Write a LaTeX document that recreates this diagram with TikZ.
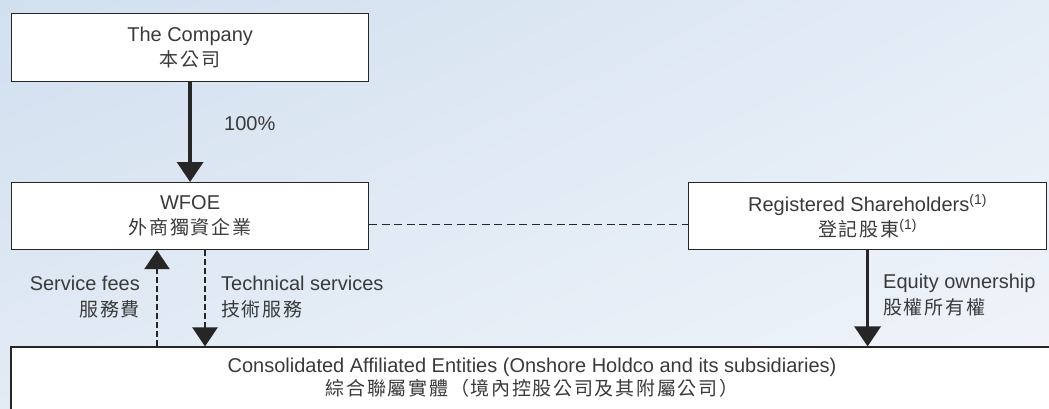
\documentclass[tikz,border=0pt]{standalone}
\usepackage{fontspec}
\setmainfont{Liberation Sans}
\newfontfamily\cjk[LetterSpace=9]{Noto Sans CJK TC}
\usetikzlibrary{arrows.meta,calc,fit,shadings}
\definecolor{txtc}{HTML}{3A3A3A}
\definecolor{linec}{HTML}{262626}
\definecolor{bgUL}{HTML}{D1DFEF}
\definecolor{bgUR}{HTML}{E4ECF6}
\definecolor{bgLL}{HTML}{E3EBF5}
\definecolor{bgLR}{HTML}{F1F5FA}
\newcommand{\zh}[1]{{\cjk\fontsize{19}{27}\selectfont #1}}
\tikzset{
  entity/.style={draw=linec, line width=1.2pt, fill=white, rectangle, inner sep=0pt,
    text=txtc, align=center, font=\fontsize{20}{27}\selectfont},
  lbl/.style={text=txtc, inner sep=0pt, font=\fontsize{20}{26}\selectfont},
  own/.style={draw=linec, line width=3.5pt, -{Triangle[width=26pt,length=20pt]}},
  svc/.style={draw=linec, line width=2.6pt, dash pattern=on 6pt off 3pt, -{Triangle[width=25pt,length=19pt]}},
  link/.style={draw=linec, line width=1.1pt, dash pattern=on 8pt off 4.5pt}
}
\begin{document}
\begin{tikzpicture}[x=1pt,y=-1pt]
\useasboundingbox (0,0) rectangle (1049,409);
\shade[upper left=bgUL, upper right=bgUR, lower left=bgLL, lower right=bgLR] (0,0) rectangle (1049,409);

\node[entity, minimum width=357pt, minimum height=68pt, anchor=north west] (co) at (11,13)
  {\raisebox{-2pt}{The Company}\\\zh{本公司}};
\node[entity, minimum width=357pt, minimum height=67pt, anchor=north west] (wfoe) at (11,182)
  {\raisebox{-2pt}{WFOE}\\\zh{外商獨資企業}};
\node[entity, minimum width=358pt, minimum height=67pt, anchor=north west] (rs) at (688,182)
  {\raisebox{-2pt}{Registered Shareholders\textsuperscript{(1)}}\\\zh{登記股東}\textsuperscript{(1)}};
\node[entity, fit={(11,347) (1055,430)}] (cae) {};
\node[lbl, align=center, font=\fontsize{20}{23}\selectfont] (caetxt) at (532,378)
  {Consolidated Affiliated Entities (Onshore Holdco and its subsidiaries)\\\zh{綜合聯屬實體（境內控股公司及其附屬公司）}};

\coordinate (sfx) at (157,0);
\coordinate (tsx) at (205,0);
\coordinate (dl) at ($(wfoe.east)+(0,8.5)$);

\draw[own] (co.south) -- (wfoe.north);
\draw[own] (rs.south) -- (rs.south |- cae.north);
\draw[svc] (cae.north -| sfx) -- (wfoe.south -| sfx);
\draw[svc] (wfoe.south -| tsx) -- (cae.north -| tsx);
\draw[link] (dl) -- (dl -| rs.west);

\node[lbl, anchor=west] (pct) at (224,124) {100\%};
\node[lbl, anchor=east, align=right] (sf) at (140,297) {Service fees\\\zh{服務費}};
\node[lbl, anchor=west, align=left] (ts) at (221,297) {Technical services\\\zh{技術服務}};
\node[lbl, anchor=west, align=left] (eo) at (883,295) {Equity ownership\\\zh{股權所有權}};
\end{tikzpicture}
\end{document}
